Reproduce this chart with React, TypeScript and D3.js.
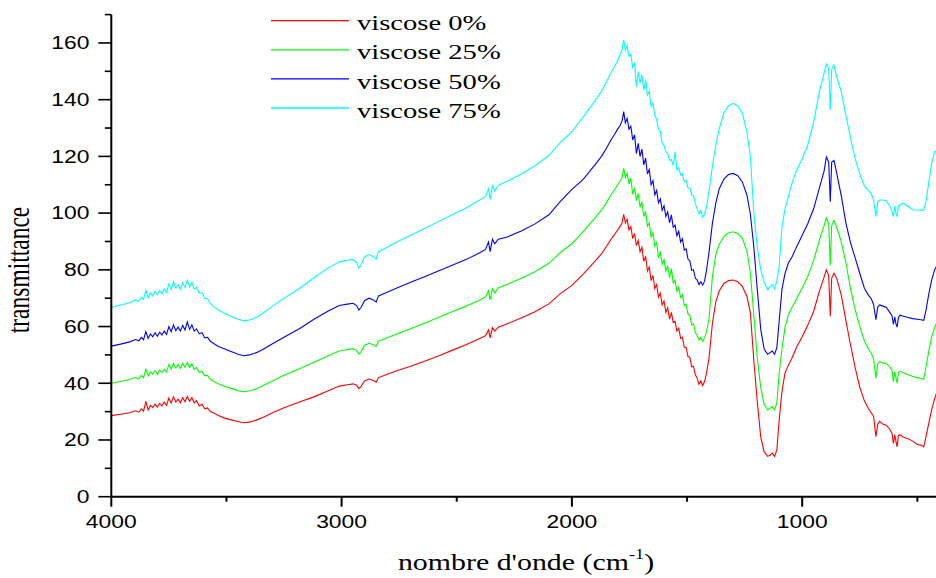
import React from "react";
import * as d3 from "d3";

// Wavenumber grid (cm-1), shared by all four spectra
const wavenumbers = [
  4000, 3960, 3920, 3895, 3880, 3870, 3860, 3850, 3840, 3830,
  3820, 3810, 3800, 3790, 3780, 3770, 3760, 3750, 3740, 3730,
  3720, 3710, 3700, 3690, 3680, 3670, 3660, 3650, 3640, 3630,
  3618, 3606, 3594, 3582, 3570, 3555, 3535, 3510, 3480, 3450,
  3425, 3400, 3370, 3340, 3300, 3250, 3180, 3120, 3060, 3010,
  2975, 2950, 2935, 2925, 2915, 2900, 2880, 2862, 2850, 2840,
  2810, 2760, 2700, 2640, 2580, 2520, 2460, 2400, 2375, 2362,
  2355, 2345, 2335, 2320, 2280, 2220, 2160, 2100, 2050, 2000,
  1950, 1900, 1870, 1850, 1830, 1815, 1800, 1790, 1782, 1775,
  1768, 1760, 1752, 1744, 1736, 1728, 1720, 1712, 1704, 1696,
  1688, 1680, 1672, 1664, 1656, 1648, 1640, 1632, 1624, 1616,
  1608, 1600, 1592, 1584, 1576, 1568, 1560, 1552, 1544, 1536,
  1528, 1520, 1512, 1504, 1496, 1488, 1480, 1472, 1464, 1456,
  1448, 1440, 1432, 1424, 1416, 1405, 1390, 1375, 1360, 1340,
  1320, 1300, 1280, 1260, 1240, 1225, 1210, 1195, 1180, 1165,
  1150, 1140, 1130, 1120, 1110, 1100, 1088, 1075, 1060, 1045,
  1025, 1000, 975, 950, 925, 905, 895, 885, 878, 872,
  862, 850, 830, 810, 790, 770, 750, 730, 712, 700,
  690, 680, 672, 664, 650, 635, 620, 610, 604, 598,
  593, 588, 582, 575, 560, 540, 520, 500, 485, 472,
  462, 450, 438, 425, 410,
];

const viscose0 = [
  28.6, 29.1, 29.6, 30.3, 29.8, 31.0, 30.2, 33.6, 30.6, 32.2,
  31.4, 32.6, 31.6, 32.9, 32.0, 33.3, 32.2, 34.8, 33.0, 35.2,
  33.4, 34.4, 33.1, 34.9, 33.5, 35.4, 33.6, 34.9, 33.0, 33.9,
  32.0, 32.6, 31.0, 31.3, 30.0, 29.5, 28.6, 27.8, 27.1, 26.5,
  26.1, 26.3, 27.0, 28.0, 29.6, 31.4, 33.5, 35.2, 37.3, 39.0,
  39.5, 39.8, 39.3, 38.1, 39.0, 40.8, 41.5, 41.0, 40.4, 42.0,
  42.9, 44.4, 46.0, 47.8, 49.6, 51.6, 53.6, 55.8, 56.8, 58.8,
  56.0, 59.6, 58.4, 59.8, 61.0, 63.0, 65.2, 68.0, 71.6, 74.5,
  78.6, 83.0, 85.8, 88.2, 90.8, 92.4, 94.2, 95.4, 96.6, 99.6,
  96.6, 97.8, 94.0, 95.2, 91.0, 92.8, 88.6, 90.4, 86.4, 88.0,
  83.0, 84.8, 79.6, 81.0, 76.2, 78.0, 73.4, 74.8, 70.4, 71.8,
  67.6, 69.0, 65.0, 66.6, 62.6, 65.0, 61.4, 61.8, 58.4, 59.4,
  55.8, 56.2, 52.8, 52.6, 49.4, 49.2, 45.8, 46.0, 43.0, 41.8,
  39.6, 40.8, 39.2, 40.6, 43.4, 48.6, 61.0, 68.8, 72.6, 75.2,
  76.2, 76.4, 75.8, 74.2, 70.6, 64.8, 48.0, 33.5, 21.0, 15.8,
  14.2, 14.6, 15.4, 14.2, 16.5, 27.0, 37.0, 43.5, 46.4, 48.8,
  52.6, 56.4, 60.6, 65.4, 72.6, 77.4, 80.0, 78.0, 63.6, 77.0,
  78.8, 77.0, 71.0, 62.0, 53.5, 45.5, 38.6, 33.8, 31.0, 29.6,
  28.4, 21.2, 25.6, 26.6, 25.6, 25.2, 23.8, 22.4, 18.8, 21.8,
  19.6, 17.6, 21.6, 21.8, 21.0, 20.4, 19.6, 18.4, 18.2, 17.6,
  21.4, 26.0, 30.6, 34.6, 38.0,
];

const viscose25 = [
  40.0, 40.6, 41.3, 42.0, 41.6, 42.8, 42.0, 45.0, 42.6, 44.0,
  43.2, 44.4, 43.2, 44.6, 43.8, 45.0, 44.0, 46.6, 45.0, 47.0,
  45.4, 46.6, 45.2, 47.0, 45.6, 47.4, 45.6, 46.8, 44.8, 45.6,
  43.8, 44.2, 42.6, 42.8, 41.4, 40.6, 39.8, 39.0, 38.2, 37.4,
  37.0, 37.3, 38.0, 39.2, 40.8, 42.8, 45.2, 47.4, 49.6, 51.4,
  51.9, 52.2, 51.6, 50.3, 51.2, 53.4, 54.1, 53.6, 53.0, 54.8,
  55.8, 57.4, 59.2, 61.2, 63.2, 65.2, 67.2, 69.4, 70.4, 72.6,
  69.4, 73.4, 71.8, 73.6, 74.9, 77.0, 79.3, 82.3, 86.1, 89.2,
  93.6, 98.2, 101.2, 103.7, 106.5, 108.2, 110.1, 111.3, 112.6, 115.8,
  112.6, 114.0, 110.2, 112.4, 106.6, 109.0, 104.4, 107.0, 102.0, 104.0,
  98.8, 100.6, 95.4, 96.6, 91.6, 93.0, 88.4, 89.6, 84.6, 86.2,
  82.0, 83.6, 79.6, 81.4, 77.2, 80.4, 75.4, 76.4, 72.4, 73.8,
  70.2, 71.2, 67.4, 67.8, 64.4, 64.0, 60.6, 61.0, 57.8, 57.0,
  55.3, 56.2, 54.8, 56.0, 58.0, 62.5, 77.5, 85.5, 89.0, 91.8,
  93.0, 93.4, 92.8, 91.2, 86.5, 78.8, 64.0, 49.0, 38.5, 32.6,
  30.6, 31.2, 31.8, 30.6, 33.0, 43.6, 52.0, 59.5, 64.2, 66.6,
  69.6, 73.6, 77.8, 83.4, 90.6, 95.6, 98.4, 96.4, 81.6, 95.6,
  97.4, 95.0, 89.8, 82.4, 73.2, 66.0, 60.0, 55.0, 52.0, 50.6,
  48.6, 41.8, 46.8, 47.6, 47.2, 47.0, 45.8, 44.6, 40.6, 44.0,
  42.0, 40.0, 43.8, 44.2, 43.6, 43.0, 42.4, 42.0, 41.8, 41.4,
  46.0, 51.4, 56.4, 59.6, 62.4,
];

const viscose50 = [
  53.1, 53.8, 54.6, 55.4, 55.0, 56.2, 55.4, 58.2, 55.8, 57.4,
  56.4, 57.8, 56.6, 58.0, 57.0, 58.4, 57.2, 60.0, 58.2, 60.6,
  58.6, 59.8, 58.4, 60.4, 58.8, 61.6, 59.0, 60.6, 58.4, 59.2,
  57.4, 57.8, 56.0, 56.2, 54.8, 54.0, 53.0, 52.2, 51.2, 50.2,
  49.7, 50.0, 50.8, 52.0, 53.9, 56.2, 59.4, 62.6, 65.4, 67.4,
  67.9, 68.2, 67.4, 65.8, 66.8, 69.2, 70.0, 69.4, 68.6, 70.8,
  71.8, 73.6, 75.6, 77.6, 79.6, 81.6, 83.6, 86.0, 87.2, 89.8,
  86.4, 90.8, 89.2, 90.8, 91.6, 93.7, 96.2, 99.4, 104.1, 108.4,
  112.0, 117.0, 120.2, 122.9, 125.9, 127.7, 129.8, 131.0, 132.6, 135.8,
  131.8, 133.4, 129.6, 130.6, 125.8, 127.6, 121.0, 124.6, 120.0, 122.6,
  117.0, 119.4, 113.8, 115.4, 110.0, 111.4, 106.4, 108.0, 103.6, 105.0,
  101.0, 102.6, 98.8, 100.4, 96.6, 99.4, 95.0, 95.8, 92.0, 93.6,
  89.8, 91.0, 87.0, 87.4, 83.8, 83.2, 79.8, 80.0, 77.0, 76.4,
  74.8, 75.8, 74.6, 76.0, 79.6, 86.0, 96.4, 103.6, 108.6, 112.0,
  113.6, 114.0, 113.2, 111.0, 106.4, 99.6, 88.0, 73.0, 59.0, 52.0,
  50.2, 50.8, 51.4, 50.2, 52.6, 62.0, 73.0, 78.6, 82.4, 84.4,
  88.0, 92.2, 96.4, 101.6, 109.0, 114.8, 119.8, 118.0, 104.0, 118.0,
  118.6, 114.0, 106.0, 96.4, 89.5, 84.2, 78.8, 73.5, 71.0, 69.8,
  67.8, 62.4, 66.8, 67.6, 67.2, 66.8, 65.0, 63.8, 60.8, 63.4,
  61.0, 59.8, 63.2, 64.0, 63.6, 63.2, 62.8, 62.6, 62.4, 62.2,
  66.0, 71.6, 76.4, 80.0, 82.4,
];

const viscose75 = [
  66.8, 67.6, 68.4, 69.4, 69.0, 70.4, 69.6, 72.8, 70.2, 71.8,
  70.8, 72.4, 71.2, 72.6, 71.6, 73.2, 72.0, 75.0, 73.0, 75.8,
  73.6, 74.8, 73.2, 75.4, 73.8, 76.4, 74.0, 75.6, 73.2, 73.8,
  71.8, 72.0, 70.0, 69.8, 68.2, 67.0, 65.8, 64.8, 63.6, 62.6,
  62.0, 62.3, 63.2, 64.8, 67.2, 70.0, 73.6, 77.2, 80.6, 82.8,
  83.4, 83.6, 82.6, 80.6, 81.8, 84.6, 85.4, 84.6, 83.8, 86.4,
  87.6, 89.8, 92.2, 94.6, 97.0, 99.4, 101.8, 104.6, 105.8, 108.6,
  104.8, 109.6, 107.8, 109.8, 111.3, 113.8, 116.7, 120.3, 124.9, 128.7,
  134.0, 139.6, 143.2, 146.3, 149.6, 151.7, 154.0, 156.0, 157.8, 161.0,
  157.4, 159.0, 155.2, 156.0, 151.4, 153.0, 144.6, 149.8, 146.0, 148.8,
  143.4, 147.0, 141.6, 143.0, 137.6, 138.8, 134.6, 133.0, 129.6, 128.6,
  124.6, 124.0, 121.6, 121.0, 118.6, 118.8, 116.8, 121.6, 115.2, 116.0,
  113.4, 114.0, 111.0, 111.6, 108.8, 108.8, 106.4, 106.2, 103.4, 101.4,
  99.8, 100.8, 98.6, 99.6, 102.0, 107.6, 116.4, 124.0, 129.8, 135.4,
  137.8, 138.7, 137.8, 135.2, 128.6, 120.0, 100.0, 88.0, 80.0, 75.4,
  73.0, 74.0, 74.8, 73.4, 76.0, 81.4, 95.0, 101.4, 106.0, 110.4,
  115.0, 119.2, 124.2, 132.2, 143.0, 149.4, 152.6, 151.0, 136.4, 150.6,
  152.2, 148.0, 142.6, 134.4, 126.4, 119.2, 113.8, 109.6, 108.0, 106.8,
  104.6, 98.8, 103.8, 104.6, 104.6, 104.4, 102.6, 100.6, 98.8, 102.6,
  100.0, 98.7, 102.6, 103.0, 103.4, 102.4, 101.2, 101.0, 101.2, 101.0,
  104.4, 111.0, 117.6, 121.6, 122.4,
];

const seriesLabels = ["viscose 0%", "viscose 25%", "viscose 50%", "viscose 75%"];
const seriesColors = ["#ff0000", "#00ff00", "#0000ff", "#00ffff"];

const xMajorTicks = [4000, 3000, 2000, 1000];
const xMinorTicks = [3500, 2500, 1500, 500];
const yMajorTicks = [0, 20, 40, 60, 80, 100, 120, 140, 160];
const yMinorTicks = [10, 30, 50, 70, 90, 110, 130, 150, 170];

const xTitle = "nombre d'onde (cm";
const xTitleSup = "-1";
const yTitle = "transmittance";

const SANS = "'Liberation Sans', Arial, sans-serif";
const SERIF = "'Liberation Serif', 'Times New Roman', serif";
const SX = 1.3; // horizontal text stretch

export default function App() {
  const W = 936;
  const H = 578;
  const left = 111.3;
  const bottom = 496.7;
  const top = 14.6;

  const x = d3.scaleLinear().domain([4000, 400]).range([left, left + 3600 * 0.2303]);
  const y = d3.scaleLinear().domain([0, 170]).range([bottom, top]);

  const series = [viscose0, viscose25, viscose50, viscose75];
  const line = d3
    .line<number>()
    .x((_, i) => x(wavenumbers[i]))
    .y((d) => y(d));

  const legendX1 = 271;
  const legendX2 = 349;
  const legendY0 = 20.7;
  const legendStep = 29.1;

  return (
    <svg
      width={W}
      height={H}
      viewBox={`0 0 ${W} ${H}`}
      style={{ position: "absolute", left: 0, top: 0, background: "#fff" }}
    >
      <rect x={0} y={0} width={W} height={H} fill="#fff" />

      {/* spectra */}
      <g fill="none" strokeWidth={1.1}>
        {series.map((vals, k) => (
          <path key={k} d={line(vals) || ""} stroke={seriesColors[k]} />
        ))}
      </g>

      {/* y axis */}
      <line x1={left} x2={left} y1={y(170)} y2={bottom} stroke="#000" strokeWidth={2} />
      {yMajorTicks.map((t) => (
        <g key={"ym" + t}>
          <line x1={left - 13} x2={left} y1={y(t)} y2={y(t)} stroke="#000" strokeWidth={1.6} />
          <text
            transform={`translate(${89.5},${y(t)}) scale(${SX},1)`}
            dy="0.36em"
            textAnchor="end"
            fontFamily={SANS}
            fontSize={17.6}
            fill="#000"
          >
            {t}
          </text>
        </g>
      ))}
      {yMinorTicks.map((t) => (
        <line key={"yn" + t} x1={left - 6.5} x2={left} y1={y(t)} y2={y(t)} stroke="#000" strokeWidth={1.6} />
      ))}

      {/* x axis */}
      <line x1={left} x2={W} y1={bottom} y2={bottom} stroke="#000" strokeWidth={2} />
      {xMajorTicks.map((t) => (
        <g key={"xm" + t}>
          <line x1={x(t)} x2={x(t)} y1={bottom} y2={bottom + 10} stroke="#000" strokeWidth={2} />
          <text
            transform={`translate(${x(t)},${bottom + 31.6}) scale(${SX},1)`}
            textAnchor="middle"
            fontFamily={SANS}
            fontSize={17.6}
            fill="#000"
          >
            {t}
          </text>
        </g>
      ))}
      {xMinorTicks.map((t) => (
        <line key={"xn" + t} x1={x(t)} x2={x(t)} y1={bottom} y2={bottom + 5} stroke="#000" strokeWidth={2} />
      ))}

      {/* axis titles */}
      <text
        transform={`translate(526,570) scale(${SX},1)`}
        textAnchor="middle"
        fontFamily={SERIF}
        fontSize={23}
        fill="#000"
      >
        {xTitle}
        <tspan fontSize={14} dy={-11}>{xTitleSup}</tspan>
        <tspan dy={11}>)</tspan>
      </text>
      <text
        transform={`translate(29,270) scale(${SX},1) rotate(-90)`}
        textAnchor="middle"
        fontFamily={SERIF}
        fontSize={23.5}
        fill="#000"
      >
        {yTitle}
      </text>

      {/* legend */}
      {seriesLabels.map((label, k) => {
        const ly = legendY0 + k * legendStep;
        return (
          <g key={label}>
            <line x1={legendX1} x2={legendX2} y1={ly} y2={ly} stroke={seriesColors[k]} strokeWidth={1.3} />
            <text
              transform={`translate(357,${ly + 9.6}) scale(${SX},1)`}
              fontFamily={SERIF}
              fontSize={22}
              fill="#000"
            >
              {label}
            </text>
          </g>
        );
      })}
    </svg>
  );
}
